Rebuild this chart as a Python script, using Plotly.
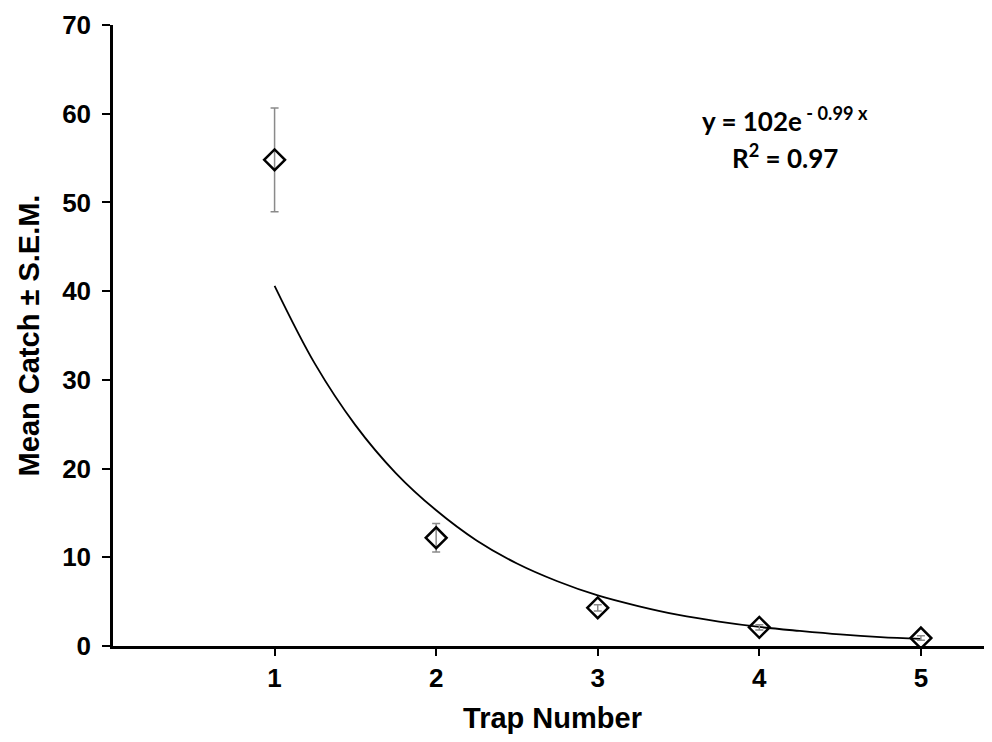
import plotly.graph_objects as go

# Data
trap_number = [1, 2, 3, 4, 5]
mean_catch = [54.8, 12.2, 4.3, 2.1, 0.9]
sem = [5.85, 1.6, 0.35, 0.3, 0.25]

# Fitted exponential trend line
trend_x = [1, 1.25, 1.5, 1.75, 2, 2.25, 2.5, 2.75, 3, 3.25, 3.5, 3.75, 4, 4.25, 4.5, 4.75, 5]
trend_y = [40.6, 31.8, 24.9, 19.5, 15.3, 11.9, 9.3, 7.3, 5.7, 4.5, 3.5, 2.75, 2.15, 1.7, 1.3, 1.0, 0.8]

y_ticks = [0, 10, 20, 30, 40, 50, 60, 70]
x_ticks = [1, 2, 3, 4, 5]

font_main = "Liberation Sans, Arial, sans-serif"
font_eq = "Lato, Open Sans, sans-serif"

fig = go.Figure()

fig.add_trace(go.Scatter(
    x=trend_x, y=trend_y, mode="lines",
    line=dict(color="black", width=1.8, shape="spline"),
    showlegend=False, hoverinfo="skip",
))

fig.add_trace(go.Scatter(
    x=trap_number, y=mean_catch, mode="markers",
    marker=dict(symbol="diamond-open", size=16, color="black",
                line=dict(color="black", width=2.5)),
    error_y=dict(type="data", array=sem, visible=True,
                 color="#8a8a8a", thickness=1.5, width=4),
    showlegend=False,
))

fig.add_annotation(
    x=4.16, y=59.3, xref="x", yref="y",
    text="y = 102e<sup> - 0.99 x</sup>", showarrow=False,
    font=dict(family=font_eq, size=26, color="black", weight="bold"),
)
fig.add_annotation(
    x=4.16, y=55.2, xref="x", yref="y",
    text="R<sup>2</sup> = 0.97", showarrow=False,
    font=dict(family=font_eq, size=26, color="black", weight="bold"),
)

# The page body adds an 8px margin, so the figure is 8px smaller and margins are offset
fig.update_layout(
    width=984, height=726,
    paper_bgcolor="white", plot_bgcolor="white",
    margin=dict(l=105, r=0, t=17, b=88),
    font=dict(family=font_main, color="black"),
)

fig.update_xaxes(
    range=[0, 5.44], tickvals=x_ticks, ticktext=[str(v) for v in x_ticks],
    showgrid=False, zeroline=False, automargin=False,
    showline=True, linecolor="black", linewidth=2.5,
    ticks="outside", ticklen=7, tickwidth=2, tickcolor="black",
    tickfont=dict(family=font_main, size=26, color="black", weight="bold"),
    ticklabelstandoff=0,
    title=dict(text="Trap Number", font=dict(family=font_main, size=29, color="black", weight="bold"),
               standoff=18),
)

fig.update_yaxes(
    range=[0, 70], tickvals=y_ticks, ticktext=[str(v) for v in y_ticks],
    showgrid=False, zeroline=False, automargin=False,
    showline=True, linecolor="black", linewidth=2.5,
    ticks="outside", ticklen=8, tickwidth=2, tickcolor="black",
    tickfont=dict(family=font_main, size=26, color="black", weight="bold"),
    ticklabelstandoff=6,
    title=dict(text="Mean Catch ± S.E.M.", font=dict(family=font_main, size=29, color="black", weight="bold"),
               standoff=14),
)

fig.write_html("out.html")
